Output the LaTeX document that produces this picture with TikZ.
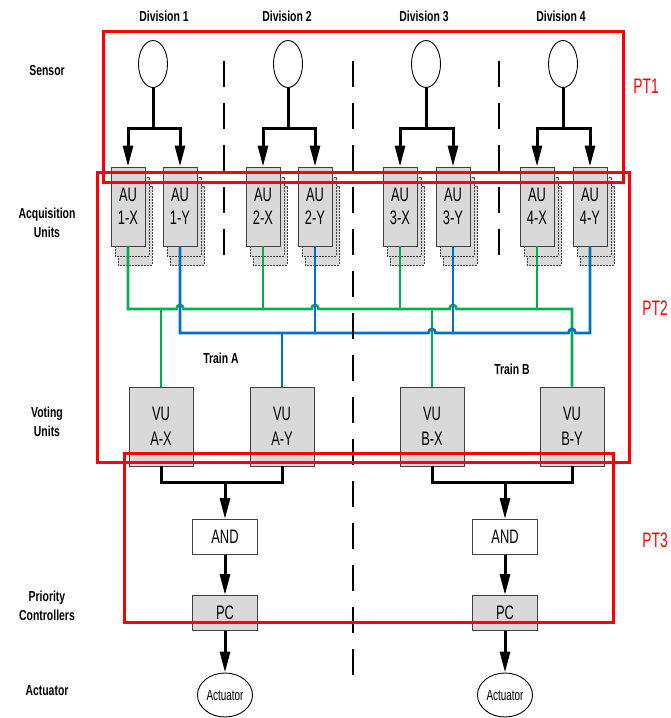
\documentclass[tikz,border=0pt]{standalone}
\usepackage{fontspec}
\setmainfont{Liberation Sans}[FakeStretch=0.72]
\newfontfamily\boxfont{Liberation Sans}[FakeStretch=0.66]
\usetikzlibrary{arrows.meta,shapes.geometric}
\definecolor{gline}{HTML}{00B050}
\definecolor{bline}{HTML}{0070C0}
\definecolor{boxfill}{HTML}{D9D9D9}
\definecolor{boxdraw}{HTML}{404040}
\definecolor{ptred}{HTML}{FF0000}
\begin{document}
\begin{tikzpicture}[x=1pt,y=-1pt,
  lbl/.style={font=\fontsize{14.5}{19}\selectfont\bfseries, align=center, inner sep=0pt},
  sensor/.style={draw, ellipse, line width=0.9pt, minimum width=29pt, minimum height=47pt, inner sep=0pt},
  aubox/.style={draw=boxdraw, fill=boxfill, line width=0.9pt, minimum width=34pt, minimum height=79pt, inner sep=0pt, align=center, font=\boxfont\fontsize{19.5}{23}\selectfont},
  vubox/.style={draw=boxdraw, fill=boxfill, line width=0.9pt, minimum width=64pt, minimum height=79pt, inner sep=0pt, align=center, font=\boxfont\fontsize{19.5}{25}\selectfont},
  andbox/.style={draw=boxdraw, fill=white, line width=0.9pt, minimum width=65pt, minimum height=35pt, inner sep=0pt, font=\boxfont\fontsize{19.5}{20}\selectfont},
  pcbox/.style={draw=boxdraw, fill=boxfill, line width=0.9pt, minimum width=65pt, minimum height=35pt, inner sep=0pt, font=\boxfont\fontsize{19.5}{20}\selectfont},
  actu/.style={draw, ellipse, line width=0.9pt, minimum width=55pt, minimum height=44pt, inner sep=0pt, font=\boxfont\fontsize{15}{15}\selectfont},
  shbox/.style={draw=boxdraw, fill=boxfill, dash pattern=on 2pt off 1pt, line width=0.7pt},
  blk/.style={line width=3pt, draw=black},
  arr/.style={blk, -{Triangle[length=21pt,width=10pt]}},
  gbus/.style={line width=2.6pt, draw=gline},
  bbus/.style={line width=2.6pt, draw=bline},
  divline/.style={line width=2.2pt, draw=black, dash pattern=on 26pt off 16pt},
  ptbox/.style={draw=ptred, line width=3pt},
  ptlbl/.style={text=ptred, font=\boxfont\fontsize{21}{21}\selectfont, inner sep=0pt}
]
\useasboundingbox (0,0) rectangle (670,718);

% row labels
\node[lbl] (lsen) at (47,71) {Sensor};
\node[lbl] (lacq) at (47,222.5) {Acquisition\\Units};
\node[lbl] (lvot) at (47,421.5) {Voting\\Units};
\node[lbl] (lpri) at (47,606) {Priority\\Controllers};
\node[lbl] (lact) at (47,691) {Actuator};

% division labels
\node[lbl] (dv1) at (164,16) {Division 1};
\node[lbl] (dv2) at (287,16) {Division 2};
\node[lbl] (dv3) at (424,16) {Division 3};
\node[lbl] (dv4) at (561,16) {Division 4};

% sensors
\node[sensor] (s1) at (153,64) {};
\node[sensor] (s2) at (288,64) {};
\node[sensor] (s3) at (426,64) {};
\node[sensor] (s4) at (563,64) {};

% AU shadows
\foreach \x in {128,180,263,315,400,453,537,590}{
  \draw[shbox] (\x-17+7,167+19) rectangle (\x+17+7,246+19);
  \draw[shbox] (\x-17+4,167+10) rectangle (\x+17+4,246+10);
}
% AU boxes
\node[aubox] (a1x) at (128,206.5) {AU\\1-X};
\node[aubox] (a1y) at (180,206.5) {AU\\1-Y};
\node[aubox] (a2x) at (263,206.5) {AU\\2-X};
\node[aubox] (a2y) at (315,206.5) {AU\\2-Y};
\node[aubox] (a3x) at (400,206.5) {AU\\3-X};
\node[aubox] (a3y) at (453,206.5) {AU\\3-Y};
\node[aubox] (a4x) at (537,206.5) {AU\\4-X};
\node[aubox] (a4y) at (590,206.5) {AU\\4-Y};

% sensor to AU
\coordinate (br) at (0,128);
\foreach \s/\a/\b in {s1/a1x/a1y,s2/a2x/a2y,s3/a3x/a3y,s4/a4x/a4y}{
  \draw[blk] (\s.south) -- (\s.south |- br);
  \draw[arr] (\s.south |- br) -| (\a.north);
  \draw[arr] (\s.south |- br) -| (\b.north);
}

% VU boxes
\node[vubox] (vax) at (161,426.5) {VU\\A-X};
\node[vubox] (vay) at (282,426.5) {VU\\A-Y};
\node[vubox] (vbx) at (432,426.5) {VU\\B-X};
\node[vubox] (vby) at (572,426.5) {VU\\B-Y};

\coordinate (gb) at (0,309);
\coordinate (bb) at (0,333);

% green bus
\draw[gbus] (a1x.south) -- (a1x.south |- gb) -- (176.5,309) .. controls (176.5,303.5) and (183.5,303.5) .. (183.5,309)
  -- (311.5,309) .. controls (311.5,303.5) and (318.5,303.5) .. (318.5,309)
  -- (449.5,309) .. controls (449.5,303.5) and (456.5,303.5) .. (456.5,309)
  -- (vby.north |- gb) -- (vby.north);
\foreach \n in {a2x,a3x,a4x}{ \draw[gbus] (\n.south) -- (\n.south |- gb); }
\draw[gbus] (vax.north |- gb) -- (vax.north);
\draw[gbus] (vbx.north |- gb) -- (vbx.north);

% blue bus
\draw[bbus] (a1y.south) -- (a1y.south |- bb) -- (428.5,333) .. controls (428.5,327.5) and (435.5,327.5) .. (435.5,333)
  -- (568.5,333) .. controls (568.5,327.5) and (575.5,327.5) .. (575.5,333)
  -- (a4y.south |- bb) -- (a4y.south);
\foreach \n in {a2y,a3y}{ \draw[bbus] (\n.south) -- (\n.south |- bb); }
\draw[bbus] (vay.north |- bb) -- (vay.north);

% train labels
\node[lbl] (ta) at (221,358) {Train A};
\node[lbl] (tb) at (512,369) {Train B};

% lower chain
\node[andbox] (and1) at (225,537) {AND};
\node[andbox] (and2) at (505,537) {AND};
\node[pcbox] (pc1) at (225,613) {PC};
\node[pcbox] (pc2) at (505,613) {PC};
\node[actu] (act1) at (225,695) {Actuator};
\node[actu] (act2) at (505,695) {Actuator};

\coordinate (mg) at (0,482);
\draw[blk] (vax.south) |- (vay.south |- mg) -- (vay.south);
\draw[blk] (vbx.south) |- (vby.south |- mg) -- (vby.south);
\draw[arr] (and1.north |- mg) -- (and1.north);
\draw[arr] (and2.north |- mg) -- (and2.north);
\draw[arr] (and1.south) -- (pc1.north);
\draw[arr] (and2.south) -- (pc2.north);
\draw[arr] (pc1.south) -- (act1.north);
\draw[arr] (pc2.south) -- (act2.north);

% division lines
\coordinate (d1t) at (224,61); \coordinate (d1b) at (224,268);
\coordinate (d2t) at (353,61); \coordinate (d2b) at (353,675);
\coordinate (d3t) at (499,61); \coordinate (d3b) at (499,268);
\draw[divline] (d1t) -- (d1b);
\draw[divline] (d2t) -- (d2b);
\draw[divline] (d3t) -- (d3b);

% PT boxes
\draw[ptbox] (103,31) rectangle (623,182);
\draw[ptbox] (97,172) rectangle (629,462);
\draw[ptbox] (124,453) rectangle (613,622);
\node[ptlbl] (pt1) at (646,86) {PT1};
\node[ptlbl] (pt2) at (655,308) {PT2};
\node[ptlbl] (pt3) at (655,540) {PT3};
\end{tikzpicture}
\end{document}
